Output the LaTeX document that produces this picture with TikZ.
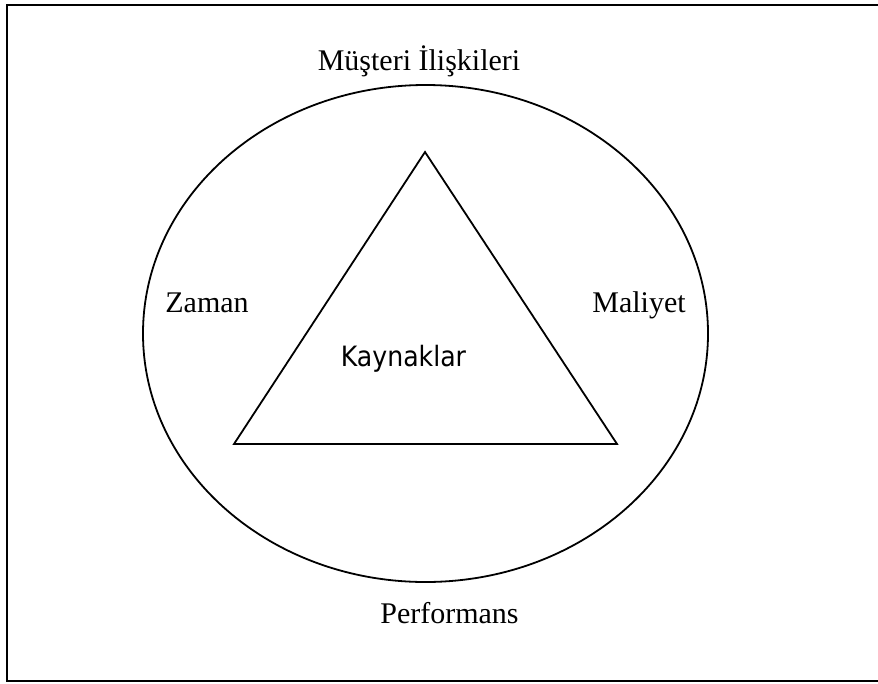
\documentclass[tikz,border=0pt]{standalone}
\usepackage{fontspec}
\usetikzlibrary{shapes.geometric}
\setmainfont{Liberation Serif}
\newfontfamily\labelsans{DejaVu Sans Condensed}
\begin{document}
\begin{tikzpicture}[x=1pt,y=-1pt,
  frameline/.style={line width=2.3pt,line cap=rect},
  shapeline/.style={line width=1.8pt},
  outerlabel/.style={font=\fontsize{30}{36}\selectfont,anchor=base,inner sep=0pt},
  innerlabel/.style={font=\labelsans\fontsize{28}{34}\selectfont,anchor=base,inner sep=0pt}]
  \useasboundingbox (0,0) rectangle (878,683);
  % open frame: left, top and bottom edges
  \coordinate (tr) at (880,5);
  \coordinate (tl) at (7,5);
  \coordinate (bl) at (7,681);
  \coordinate (br) at (880,681);
  \draw[frameline] (tr) -- (tl) -- (bl) -- (br);
  % ellipse around the triangle
  \node[draw,shapeline,ellipse,minimum width=565pt,minimum height=497pt,inner sep=0pt] (ring) at (425.5,333.5) {};
  % triangle
  \coordinate (apex) at (425,152);
  \coordinate (left) at (234,444);
  \coordinate (right) at (617,444);
  \draw[shapeline,line join=miter] (apex) -- (left) -- (right) -- cycle;
  % labels
  \node[outerlabel] (top) at (419,70) {Müşteri İlişkileri};
  \node[outerlabel] (time) at (207,312) {Zaman};
  \node[outerlabel] (cost) at (639,312) {Maliyet};
  \node[outerlabel] (perf) at (449.5,623) {Performans};
  \node[innerlabel] (res) at (403.5,366.5) {Kaynaklar};
\end{tikzpicture}
\end{document}
